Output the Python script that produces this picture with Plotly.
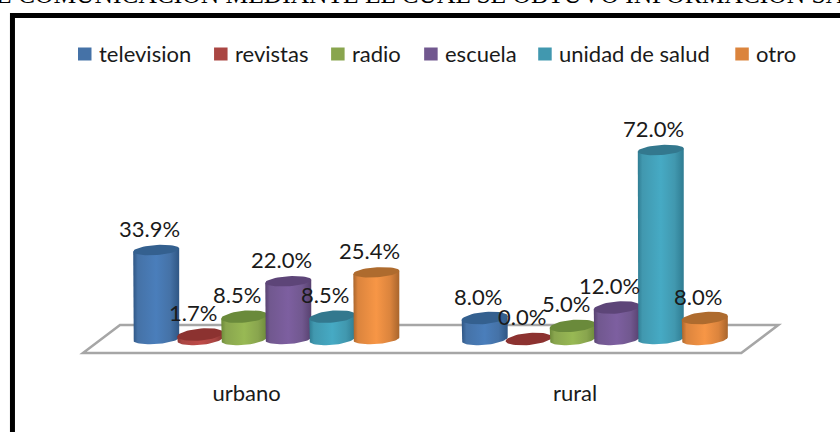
import numpy as np
import plotly.graph_objects as go

categories = ['urbano', 'rural']
television = [33.9, 8.0]
revistas = [1.7, 0.0]
radio = [8.5, 5.0]
escuela = [22.0, 12.0]
unidad_salud = [8.5, 72.0]
otro = [25.4, 8.0]

names = ['television', 'revistas', 'radio', 'escuela', 'unidad de salud', 'otro']
series = [television, revistas, radio, escuela, unidad_salud, otro]
colors = ['#4572A7', '#AA4643', '#89A54E', '#71588F', '#4198AF', '#DB843D']
light = ['#4A7EBB', '#BE4B48', '#98B954', '#7D5FA0', '#46AAC4', '#F79646']
dark = ['#2F5684', '#8A3331', '#6C8A39', '#57416F', '#2F7C92', '#A9652C']
caps = ['#34608F', '#8C3230', '#6A8A3B', '#5D4578', '#33788E', '#AE6B2E']

TITLE = 'E COMUNICACION MEDIANTE EL CUAL SE OBTUVO INFORMACION SA'
FONT = 'Lato'
PCT = '%.1f%%'

# pixel layout of the plot area
W, H = 840, 432
L, R, T, B = 102, 81.3, 100, 54
BAR = 0.134
PX_X = 328.5
PX_Y = 2.625

# left edge of each legend swatch, in pixels
legend_x = [78, 214, 331, 424, 538, 735]
LEGEND_Y = 54


def ellipse(cx, cy, hw, hh, tilt):
    t = np.linspace(0, 2 * np.pi, 50)
    return cx + hw * np.cos(t), cy + hh * np.sin(t) + tilt * np.cos(t)


def body(cx, top, hw, hh, tilt):
    # lower half of the base ellipse, then straight up and across the top
    t = np.linspace(np.pi, 2 * np.pi, 30)
    xs = cx + hw * np.cos(t)
    ys = hh * np.sin(t) + tilt * np.cos(t)
    xs = np.concatenate([[cx - hw], xs, [cx + hw]])
    ys = np.concatenate([[top - tilt], ys, [top + tilt]])
    return xs, ys


px = lambda x: (x - L) / (W - L - R)
py = lambda y: (H - B - y) / (H - T - B)

fig = go.Figure()

for name, vals, color in zip(names, series, colors):
    fig.add_trace(go.Bar(x=[0, 1], y=vals, name=name, marker=dict(color=color, line=dict(width=0)),
                         hoverinfo='skip', showlegend=False))

hw = 23 / PX_X
for i, vals in enumerate(series):
    for c, v in enumerate(vals):
        cx = c + (i - 2.5) * BAR
        hh = (6 if v < 15 else 5) / PX_Y
        tilt = (2 if v < 15 else 1.5) / PX_Y
        if v > 0:
            xs, ys = body(cx, v, hw, hh, tilt)
            fig.add_trace(go.Scatter(
                x=xs, y=ys, mode='lines', line=dict(width=0), fill='toself', showlegend=False,
                hoverinfo='skip',
                fillgradient=dict(type='horizontal', colorscale=[
                    [0, dark[i]], [0.1, colors[i]], [0.5, light[i]], [0.8, colors[i]], [1, dark[i]]])))
        xs, ys = ellipse(cx, v, hw, hh, tilt)
        fig.add_trace(go.Scatter(x=xs, y=ys, mode='lines', line=dict(width=0), fill='toself',
                                 fillcolor=caps[i], showlegend=False, hoverinfo='skip'))

# value labels sit a little left of their cylinder, as in the original
for i, vals in enumerate(series):
    for c, v in enumerate(vals):
        fig.add_annotation(x=c + (i - 2.5) * BAR, y=v, text=PCT % v, showarrow=False,
                           xshift=-7, yshift=22,
                           font=dict(family=FONT, size=22, color='#1a1a1a'))

# hand made legend, plotly's own puts too much space between swatch and text
for name, color, x in zip(names, colors, legend_x):
    fig.add_shape(type='rect', xref='paper', yref='paper', fillcolor=color, line=dict(width=0),
                  x0=px(x), x1=px(x + 13.5), y0=py(LEGEND_Y - 6.5), y1=py(LEGEND_Y + 6.5))
    fig.add_annotation(xref='paper', yref='paper', x=px(x + 19), y=py(LEGEND_Y), xanchor='left',
                       yanchor='middle', text=name, showarrow=False,
                       font=dict(family=FONT, size=22, color='#1a1a1a'))

# floor of the 3D chart
floor = dict(type='path', xref='paper', yref='paper', layer='below',
             line=dict(color='#A6A6A6', width=2.5), fillcolor='white')
floor['path'] = 'M %f %f L %f %f L %f %f L %f %f Z' % (
    px(83), py(353), px(120), py(325), px(778), py(325), px(741), py(353))
fig.add_shape(**floor)

# black frame, runs off the right and bottom edges of the picture
fig.add_shape(type='path', xref='paper', yref='paper', line=dict(color='black', width=5),
              path='M %f %f L %f %f L %f %f' % (px(12.5), py(440), px(12.5), py(15.5), px(850), py(15.5)))

fig.add_annotation(xref='paper', yref='paper', x=px(420), y=py(-5), yanchor='middle', text=TITLE,
                   showarrow=False, font=dict(family='Liberation Serif', size=25.5, color='black'))

fig.update_layout(
    width=W, height=H,
    margin=dict(l=L, r=R, t=T, b=B, autoexpand=False),
    paper_bgcolor='white', plot_bgcolor='rgba(0,0,0,0)',
    barmode='group', bargap=1 - 6 * BAR, bargroupgap=0,
    showlegend=False,
    xaxis=dict(range=[-0.5, 1.5], tickmode='array', tickvals=[-0.06, 0.94], ticktext=categories,
               showgrid=False, zeroline=False, showline=False, ticks='',
               tickfont=dict(family=FONT, size=22, color='#1a1a1a')),
    yaxis=dict(range=[-14.86, 91.05], visible=False, showgrid=False, zeroline=False),
)

# the page's default 8px body margin would push the whole chart off position
fig.write_html("out.html", config=dict(displayModeBar=False),
               post_script="document.body.style.margin='0';")
